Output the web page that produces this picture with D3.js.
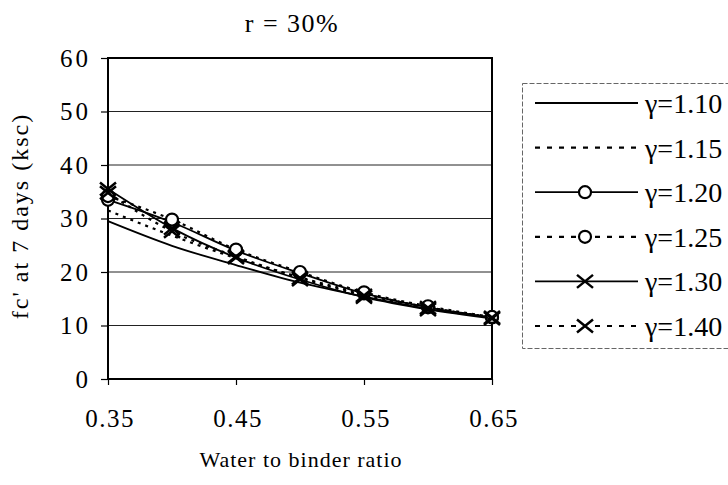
<!DOCTYPE html>
<html>
<head>
  <style>
    body{
      margin:0;
      background:#fff;
    }
    svg text{
      font-family: "Liberation Serif", "Times New Roman", "DejaVu Serif", serif;
      fill:#000;
    }
    .grid line{
      stroke:#222;
      stroke-width:1px;
    }
    .series-line{
      fill:none;
      stroke:#000;
    }
  </style>
  <script src="https://d3js.org/d3.v7.min.js"></script>
</head>
<body>
<div class="chart"></div>
<script>
// water to binder ratio
const ratios = [0.35, 0.40, 0.45, 0.50, 0.55, 0.60, 0.65];
const xTickValues = [0.35, 0.45, 0.55, 0.65];
const yTickValues = [0, 10, 20, 30, 40, 50, 60];

const seriesNames = ['γ=1.10', 'γ=1.15', 'γ=1.20', 'γ=1.25', 'γ=1.30', 'γ=1.40'];
const g110 = [29.5, 24.9, 21.3, 18.0, 15.4, 13.1, 11.5];
const g115 = [31.5, 26.8, 22.6, 19.0, 15.9, 13.4, 11.5];
const g120 = [33.5, 29.3, 24.0, 19.8, 16.0, 13.4, 11.5];
const g125 = [34.2, 29.8, 24.2, 20.0, 16.2, 13.6, 11.6];
const g130 = [35.5, 28.2, 22.7, 18.6, 15.3, 13.0, 11.3];
const g140 = [34.8, 27.6, 22.9, 18.9, 15.6, 13.3, 11.5];

const seriesValues = [g110, g115, g120, g125, g130, g140];
const seriesDashed = [false, true, false, true, false, true];
const seriesMarker = ['none', 'none', 'circle', 'circle', 'cross', 'cross'];

const width = 728;
const height = 485;
const margin = {top:58, right:236, bottom:106, left:108};

const svg = d3.select('.chart')
  .append('svg')
  .attr('width', width)
  .attr('height', height);

const x = d3.scaleLinear()
  .domain([0.35, 0.65])
  .range([margin.left, width - margin.right]);

const y = d3.scaleLinear()
  .domain([0, 60])
  .range([height - margin.bottom, margin.top]);

// gridlines
svg.append('g')
  .attr('class', 'grid')
  .selectAll('line')
  .data(yTickValues.filter(d => d > 0 && d < 60))
  .join('line')
  .attr('x1', x(0.35))
  .attr('x2', x(0.65))
  .attr('y1', d => y(d))
  .attr('y2', d => y(d));

// plot frame
svg.append('rect')
  .attr('x', x(0.35))
  .attr('y', y(60))
  .attr('width', x(0.65) - x(0.35))
  .attr('height', y(0) - y(60))
  .attr('fill', 'none')
  .attr('stroke', '#000')
  .attr('stroke-width', 2);

const yAxis = svg.append('g')
  .attr('transform', `translate(${x(0.35)},0)`)
  .call(d3.axisLeft(y).tickValues(yTickValues).tickSize(7).tickPadding(10).tickFormat(d3.format('d')));

const xAxis = svg.append('g')
  .attr('transform', `translate(0,${y(0)})`)
  .call(d3.axisBottom(x).tickValues(xTickValues).tickSize(6).tickPadding(24).tickFormat(d3.format('.2f')));

[yAxis, xAxis].forEach(ax => {
  ax.select('.domain').remove();
  ax.selectAll('line').attr('stroke', '#000').attr('stroke-width', 1.2);
  ax.selectAll('text')
    .attr('font-family', null)
    .attr('font-size', 25)
    .attr('fill', '#000');
});
yAxis.selectAll('text').attr('letter-spacing', 3);
xAxis.selectAll('text').attr('letter-spacing', 1.5).attr('dx', '0.06em');

const line = d3.line()
  .x((d, i) => x(ratios[i]))
  .y(d => y(d))
  .curve(d3.curveMonotoneX);

function drawMarker(sel, type){
  if(type === 'circle'){
    sel.append('circle')
      .attr('r', 6)
      .attr('fill', '#fff')
      .attr('stroke', '#000')
      .attr('stroke-width', 2.2);
  }else if(type === 'cross'){
    sel.append('path')
      .attr('d', 'M-8,-6.5L8,6.5M-8,6.5L8,-6.5')
      .attr('stroke', '#000')
      .attr('stroke-width', 2.5);
  }
}

seriesValues.forEach((vals, s) => {
  svg.append('path')
    .attr('class', 'series-line')
    .attr('d', line(vals))
    .attr('stroke-width', seriesDashed[s] ? 2.2 : 1.8)
    .attr('stroke-dasharray', seriesDashed[s] ? '3,5' : null);

  if(seriesMarker[s] !== 'none'){
    svg.append('g')
      .selectAll('g')
      .data(vals)
      .join('g')
      .attr('transform', (d, i) => `translate(${x(ratios[i])},${y(d)})`)
      .each(function(){ drawMarker(d3.select(this), seriesMarker[s]); });
  }
});

// title and axis labels
svg.append('text')
  .attr('x', 292)
  .attr('y', 32)
  .attr('text-anchor', 'middle')
  .attr('font-size', 26)
  .attr('letter-spacing', 1.5)
  .text('r = 30%');

svg.append('text')
  .attr('x', 301)
  .attr('y', 467)
  .attr('text-anchor', 'middle')
  .attr('font-size', 22)
  .attr('letter-spacing', 1)
  .text('Water to binder ratio');

svg.append('text')
  .attr('transform', 'translate(28,216) rotate(-90)')
  .attr('text-anchor', 'middle')
  .attr('font-size', 24)
  .attr('letter-spacing', 2)
  .text("fc' at 7 days (ksc)");

// legend
const legend = svg.append('g');
legend.append('rect')
  .attr('x', 522.5)
  .attr('y', 83.5)
  .attr('width', 212)
  .attr('height', 265)
  .attr('fill', 'none')
  .attr('stroke', '#666')
  .attr('stroke-width', 1)
  .attr('stroke-dasharray', '5,2');

const legendY = d3.scalePoint()
  .domain(seriesNames)
  .range([103, 326]);

seriesNames.forEach((name, s) => {
  const ly = legendY(name);
  const item = legend.append('g');
  item.append('line')
    .attr('x1', 535)
    .attr('x2', 638)
    .attr('y1', ly)
    .attr('y2', ly)
    .attr('stroke', '#000')
    .attr('stroke-width', seriesDashed[s] ? 2.2 : 1.8)
    .attr('stroke-dasharray', seriesDashed[s] ? '5,7' : null);
  if(seriesMarker[s] !== 'none'){
    const m = item.append('g').attr('transform', `translate(585,${ly})`);
    if(seriesDashed[s]){
      m.insert('rect', ':first-child')
        .attr('x', -9).attr('y', -3).attr('width', 18).attr('height', 6)
        .attr('fill', '#fff');
    }
    drawMarker(m, seriesMarker[s]);
  }
  item.append('text')
    .attr('x', 645)
    .attr('y', ly + 10)
    .attr('font-size', 28)
    .text(name);
});
</script>
</body>
</html>
